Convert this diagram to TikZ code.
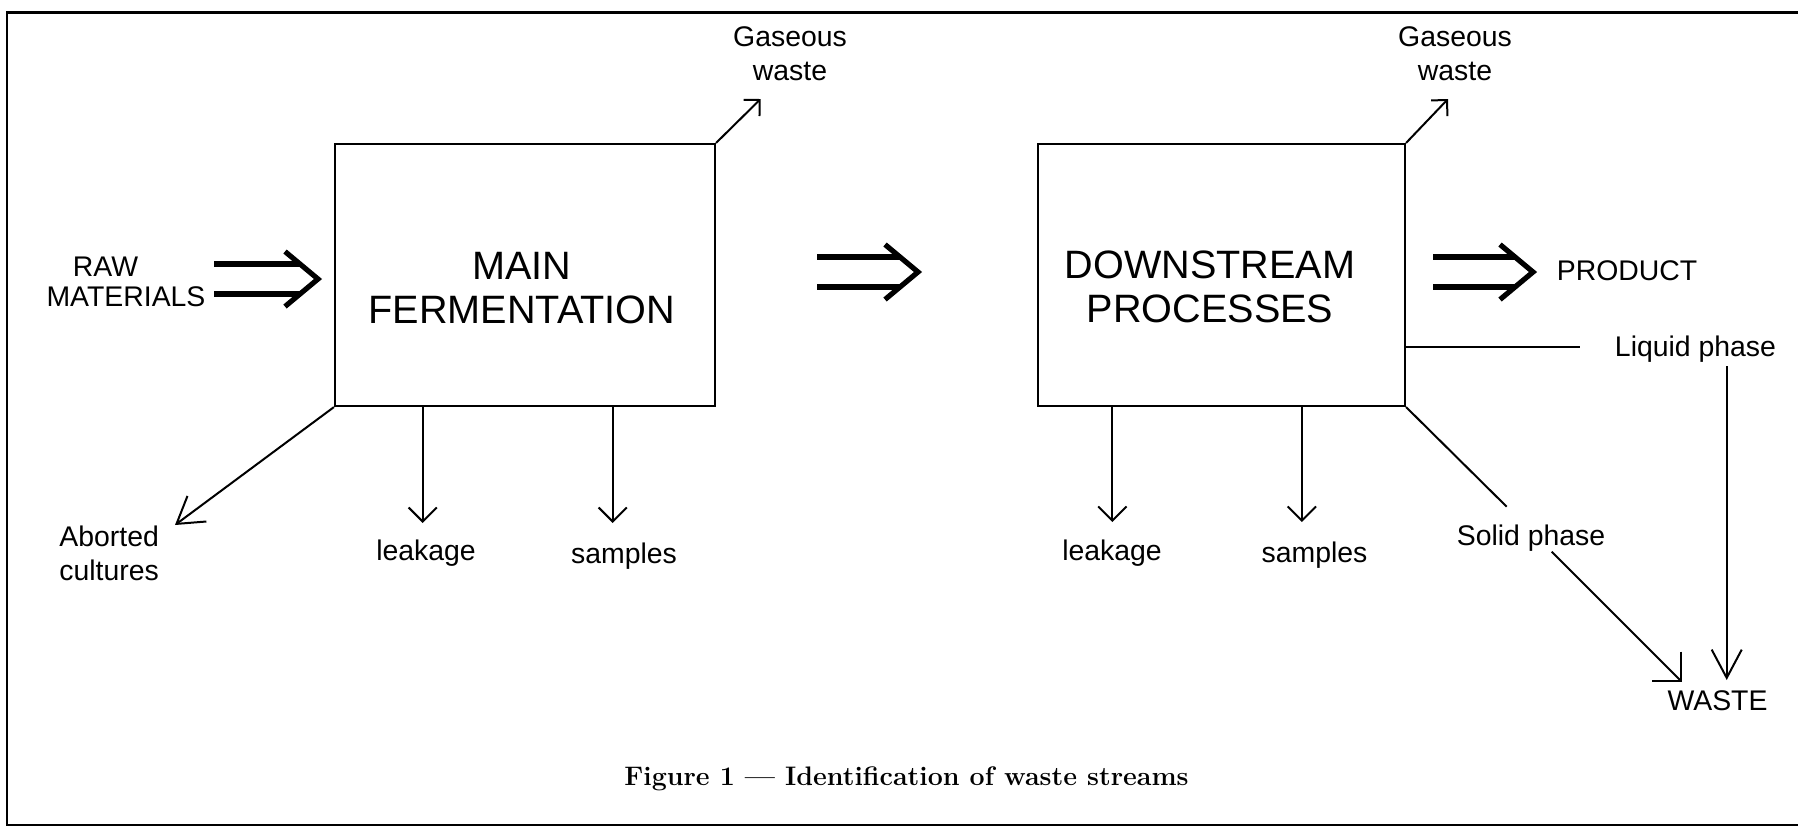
\documentclass[tikz,border=0pt]{standalone}
\usepackage{fontspec}
\newfontfamily\arial{Liberation Sans}
\usetikzlibrary{arrows.meta}
\begin{document}
\begin{tikzpicture}[x=0.5pt,y=-0.5pt,
  boxst/.style={draw, line width=1.1pt, inner sep=0pt},
  lbl/.style={font=\arial\fontsize{14.2}{17}\selectfont, inner sep=0pt},
  big/.style={font=\arial\fontsize{19.8}{21.8}\selectfont, inner sep=0pt, align=center},
  flow/.style={line width=1pt},
  dblline/.style={line width=2.6pt},
  dblhead/.style={line width=2.6pt, line join=miter},
  capst/.style={font=\bfseries\fontsize{13.4}{15}\selectfont, inner sep=0pt}
]
\useasboundingbox (0,0) rectangle (1798,827);
% frame
\draw[line width=1.3pt] (7,12.5) rectangle (1830,825);

% boxes
\node[boxst, minimum width=190pt, minimum height=131pt] (b1) at (525,275) {};
\node[boxst, minimum width=183.5pt, minimum height=131pt] (b2) at (1221.5,275) {};
\node[big] (t1) at (522,288) {MAIN\\FERMENTATION};
\node[big] (t2) at (1210,287) {DOWNSTREAM\\PROCESSES};

% labels
\node[lbl, anchor=base] (raw1) at (105.5,276) {RAW};
\node[lbl, anchor=base] (raw2) at (126,306) {MATERIALS};
\node[lbl, anchor=base] (prod) at (1627,280) {PRODUCT};
\node[lbl, anchor=base] (liq) at (1695.5,356) {Liquid phase};
\node[lbl, anchor=base] (sol) at (1531,545) {Solid phase};
\node[lbl, anchor=base] (waste) at (1717.5,710) {WASTE};
\node[lbl, anchor=base] (lk1) at (426,560) {leakage};
\node[lbl, anchor=base] (sm1) at (624,563) {samples};
\node[lbl, anchor=base] (lk2) at (1112,560) {leakage};
\node[lbl, anchor=base] (sm2) at (1314.5,562) {samples};
\node[lbl, align=left, anchor=west] (abort) at (59,553) {Aborted\\cultures};
\node[lbl, align=center] (gas1) at (790,54) {Gaseous\\waste};
\node[lbl, align=center] (gas2) at (1455,54) {Gaseous\\waste};
\node[capst, anchor=base] (cap) at (906.5,785) {Figure 1 — Identification of waste streams};

% double arrows
\newcommand\dblarr[2]{%
  \draw[dblline] ([shift={(0,-15)}]#1) -- ([shift={(-18,-15)}]#2);
  \draw[dblline] ([shift={(0,15)}]#1) -- ([shift={(-18,15)}]#2);
  \draw[dblhead] ([shift={(-33,-27.5)}]#2) -- (#2) -- ([shift={(-33,27.5)}]#2);}
\coordinate (rawS) at (214,279);  \coordinate (rawT) at (318,279);
\coordinate (midS) at (817,272);  \coordinate (midT) at (918,272);
\coordinate (proS) at (1433,272); \coordinate (proT) at (1533,272);
\dblarr{rawS}{rawT}
\dblarr{midS}{midT}
\dblarr{proS}{proT}

% single arrows
\coordinate (g1) at (760.6,99);
\coordinate (g2) at (1448,99);
\draw[flow, -{Straight Barb[angle=90:8pt]}] (b1.north east) -- (g1);
\draw[flow, -{Straight Barb[angle=90:8pt]}] (b2.north east) -- (g2);

\coordinate (ab) at (175,525);
\draw[flow, -{Straight Barb[angle=64:15pt]}] (b1.south west) -- (ab);

\coordinate (lk1t) at (422.7,523);
\coordinate (sm1t) at (612.7,523);
\coordinate (lk2t) at (1112.4,522);
\coordinate (sm2t) at (1301.8,522);
\draw[flow, -{Straight Barb[angle=90:10pt]}] (b1.south -| lk1t) -- (lk1t);
\draw[flow, -{Straight Barb[angle=90:10pt]}] (b1.south -| sm1t) -- (sm1t);
\draw[flow, -{Straight Barb[angle=90:10pt]}] (b2.south -| lk2t) -- (lk2t);
\draw[flow, -{Straight Barb[angle=90:10pt]}] (b2.south -| sm2t) -- (sm2t);

\coordinate (liqE) at (1580,346.7);
\draw[flow] (b2.east |- liqE) -- (liqE);
\coordinate (wL) at (1726.7,680);
\draw[flow, -{Straight Barb[angle=56:16pt]}] ([yshift=-2pt]liq.south -| wL) -- (wL);

\coordinate (sA) at (1506.7,506.7);
\coordinate (sB) at (1551.7,551.7);
\coordinate (wS) at (1681.7,681.7);
\draw[flow] (b2.south east) -- (sA);
\draw[flow, -{Straight Barb[angle=90:14.5pt]}] (sB) -- (wS);
\end{tikzpicture}
\end{document}
